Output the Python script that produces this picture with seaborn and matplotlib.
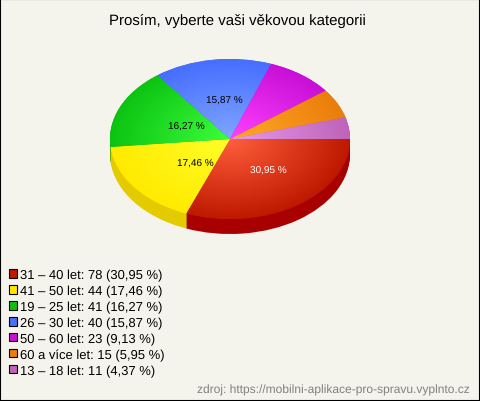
import numpy as np
import matplotlib
matplotlib.use("Agg")
import matplotlib.pyplot as plt
from matplotlib.patches import Patch, Rectangle
import seaborn as sns

categories = ["31 – 40 let", "41 – 50 let", "19 – 25 let", "26 – 30 let", "50 – 60 let", "60 a více let", "13 – 18 let"]
counts = [78, 44, 41, 40, 23, 15, 11]
percent_labels = ["30,95 %", "17,46 %", "16,27 %", "15,87 %", "9,13 %", "5,95 %", "4,37 %"]
inner_colors = ["#FF5F3C", "#FFFF2A", "#3CFF3C", "#80A5FF", "#FF40FF", "#FFAA28", "#E89AEC"]
outer_colors = ["#BE1900", "#FFEA00", "#0CC312", "#466EFF", "#C80FD7", "#EB7D0A", "#BE64B9"]
side_colors = ["#A80000", "#E3CB00", "#0A960A", "#3050C0", "#900A9C", "#B05A00", "#8C4A88"]
legend_colors = ["#C01A00", "#FFE800", "#10C010", "#4A70F5", "#C810D0", "#EB7D0A", "#BE64B9"]
title = "Prosím, vyberte vaši věkovou kategorii"
source = "zdroj: https://mobilni-aplikace-pro-spravu.vyplnto.cz"
label_nudges = [(0.065, -0.02), (0.07, -0.03), (0.045, -0.02), (0.02, 0.04)]

sns.set_theme(style="white")
plt.rcParams["font.family"] = ["Liberation Sans", "DejaVu Sans"]
plt.rcParams["text.hinting"] = "no_hinting"
plt.rcParams["text.hinting_factor"] = 1

W, H = 480, 402
CX, CY, RX, RY, DEPTH = 230, 140, 120, 80, 15
BG = "#F5F4EC"

fig = plt.figure(figsize=(W / 100, H / 100), dpi=100, facecolor=BG)
ax = fig.add_axes([0, 0, 1, 1])
ax.set_facecolor(BG)

# extruded side of the pie: stacked copies, one per pixel of depth
for d in range(DEPTH, 0, -1):
    w, *_ = ax.pie(counts, colors=side_colors, startangle=0, counterclock=False,
                   center=(0, -d / RY), radius=1, wedgeprops={"linewidth": 0})
    for p in w:
        p.set_zorder(1)
        p.set_clip_on(False)

pct_iter = iter(percent_labels)
def autopct(_):
    s = next(pct_iter)
    return s if float(s.split()[0].replace(",", ".")) > 10 else ""

wedges, _, autotexts = ax.pie(counts, colors=outer_colors, startangle=0, counterclock=False,
                              center=(0, 0), radius=1, autopct=autopct, pctdistance=0.45,
                              wedgeprops={"linewidth": 0})

# radial shading of every slice
xx, yy = np.meshgrid(np.linspace(-1, 1, 480), np.linspace(-1, 1, 320))
rr = np.clip(np.hypot(xx, yy), 0, 1)[..., None]
for wedge, ci, co in zip(wedges, inner_colors, outer_colors):
    wedge.set_zorder(2)
    c0 = np.array(matplotlib.colors.to_rgb(ci))
    c1 = np.array(matplotlib.colors.to_rgb(co))
    im = ax.imshow(c0 + (c1 - c0) * rr, extent=(-1, 1, -1, 1), origin="lower",
                   aspect="auto", zorder=3, interpolation="bilinear")
    im.set_clip_path(wedge)

for i, t in enumerate(autotexts):
    t.set_fontsize(7.4)
    t.set_zorder(5)
    t.set_color("white" if i == 0 else "black")
    if i < len(label_nudges):
        x, y = t.get_position()
        t.set_position((x + label_nudges[i][0], y + label_nudges[i][1]))

ax.set_aspect("auto")
ax.set_xlim(-CX / RX, (W - CX) / RX)
ax.set_ylim(-(H - CY) / RY, CY / RY)
ax.axis("off")

fig.text(237 / W, 1 - 21 / H, title, ha="center", va="center", fontsize=10.45, color="black")
fig.text(470 / W, 1 - 390 / H, source, ha="right", va="center", fontsize=8.87, color="#808080")

handles = [Patch(facecolor=c, edgecolor="black", linewidth=0.8) for c in legend_colors]
labels = [f"{c}: {n} ({p})" for c, n, p in zip(categories, counts, percent_labels)]
fig.legend(handles, labels, loc="upper left", bbox_to_anchor=(9 / W, 1 - 270 / H), frameon=False,
           fontsize=9.65, labelcolor="black", handlelength=0.6, handleheight=0.6,
           handletextpad=0.25, labelspacing=0.28, borderpad=0, borderaxespad=0)

fig.add_artist(Rectangle((0, 0), 1, 1, transform=fig.transFigure, fill=False,
                         edgecolor="black", linewidth=1.5))
fig.savefig("out.png", dpi=100, facecolor=BG)
